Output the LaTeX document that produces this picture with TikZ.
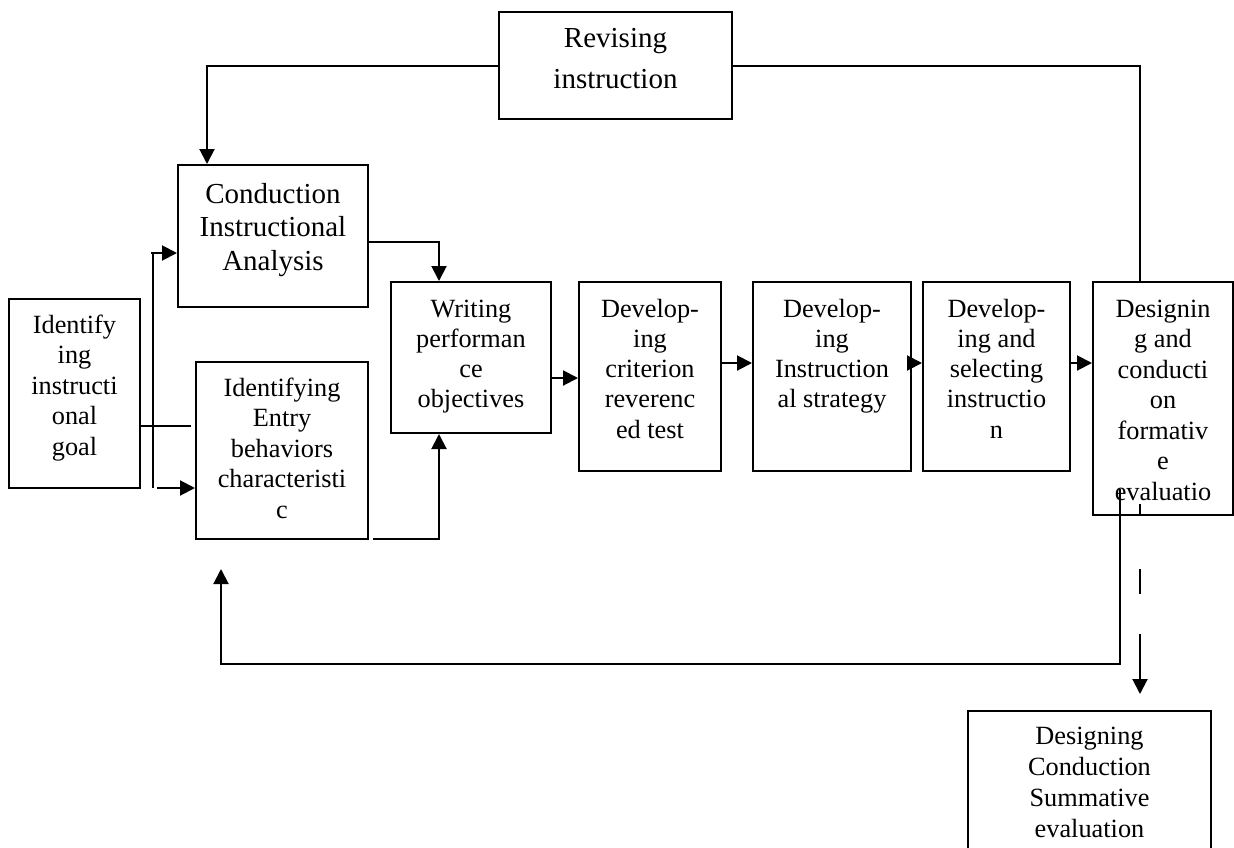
\documentclass[tikz,border=0pt]{standalone}
\usepackage{fontspec}
\setmainfont{Liberation Serif}
\usetikzlibrary{arrows.meta,calc}
\newcommand\btxt[4]{\parbox[t]{#1pt}{\centering\fontsize{#2}{#3}\selectfont #4}}
\tikzset{
  box/.style={draw, line width=2pt, inner sep=0pt},
  lbl/.style={inner sep=0pt, anchor=base},
  conn/.style={line width=2pt},
  tip/.style={-{Triangle[length=15pt,width=15pt]}},
  arr/.style={conn, tip},
}
\begin{document}
\begin{tikzpicture}[x=1pt,y=-1pt]
\useasboundingbox (0,0) rectangle (1234,847);
\clip (0,0) rectangle (1234,847);
% boxes
\node[box, minimum width=233pt, minimum height=107pt] (rev) at (615.5,65.5) {};
\node[box, minimum width=190pt, minimum height=142pt] (cia) at (273,236) {};
\node[box, minimum width=131pt, minimum height=189pt] (goal) at (74.5,393.5) {};
\node[box, minimum width=172pt, minimum height=177pt] (entry) at (282,450.5) {};
\node[box, minimum width=160pt, minimum height=151pt] (wpo) at (471,357.5) {};
\node[box, minimum width=142pt, minimum height=189pt] (crt) at (650,376.5) {};
\node[box, minimum width=158pt, minimum height=189pt] (strat) at (832,376.5) {};
\node[box, minimum width=147pt, minimum height=189pt] (sel) at (996.5,376.5) {};
\node[box, minimum width=140pt, minimum height=233pt] (form) at (1163,398.5) {};
\node[box, minimum width=243pt, minimum height=160pt] (summ) at (1089.5,791) {};
% texts
\node[lbl] (rev-t) at (615.5,47) {\btxt{220}{29}{41}{Revising\\instruction}};
\node[lbl] (cia-t) at (273,203) {\btxt{200}{29}{33.5}{Conduction\\Instructional\\Analysis}};
\node[lbl] (goal-t) at (74.5,333) {\btxt{140}{26.3}{30.5}{Identify\\ing\\instructi\\onal\\goal}};
\node[lbl] (entry-t) at (282,396) {\btxt{180}{26.3}{30.5}{Identifying\\Entry\\behaviors\\characteristi\\c}};
\node[lbl] (wpo-t) at (471,317) {\btxt{160}{26.3}{30}{Writing\\performan\\ce\\objectives}};
\node[lbl] (crt-t) at (650,317) {\btxt{150}{26.3}{30.3}{Develop-\\ing\\criterion\\reverenc\\ed test}};
\node[lbl] (strat-t) at (832,317) {\btxt{160}{26.3}{30}{Develop-\\ing\\Instruction\\al strategy}};
\node[lbl] (sel-t) at (996.5,317) {\btxt{150}{26.3}{30.3}{Develop-\\ing and\\selecting\\instructio\\n}};
\node[lbl] (form-t) at (1163,317) {\btxt{150}{26.3}{30.5}{Designin\\g and\\conducti\\on\\formativ\\e\\evaluatio}};
\node[lbl] (summ-t) at (1089.5,744) {\btxt{240}{26.3}{31}{Designing\\Conduction\\Summative\\evaluation}};
% connectors
\draw[arr] (rev.west) -| ([xshift=30pt]cia.north west);
\draw[conn] (rev.east) -| ([xshift=48pt]form.north west);
\draw[arr] ([yshift=-6pt]cia.east) -| ([xshift=49pt]wpo.north west);
\draw[arr] ([xshift=4pt,yshift=1pt]entry.south east) -| ([xshift=49pt]wpo.south west);
\draw[conn] ([yshift=-32.5pt]goal.east) -- ++(50,0);
\coordinate (st) at (153,253);
\coordinate (sb) at (153,488);
\draw[conn] (st) -- (sb);
\draw[arr] ([xshift=-2pt]st) -- ([yshift=-17pt]cia.west);
\draw[arr] ([xshift=4pt]sb) -- ([yshift=-37.5pt]entry.west);
\draw[arr] ([yshift=-20.5pt]wpo.east) -- ([yshift=-1.5pt]crt.west);
\draw[arr] ([yshift=13.5pt]crt.east) -- ([yshift=13.5pt]strat.west);
\draw[arr] ([yshift=13.5pt]strat.east) -- ([yshift=13.5pt]sel.west);
\draw[arr] ([yshift=13.5pt]sel.east) -- ([yshift=35.5pt]form.west);
% feedback loop
\coordinate (fbs) at ([xshift=28pt,yshift=27pt]form.south west);
\coordinate (fbc) at (221,664);
\coordinate (fbe) at (221,569);
\draw[arr] (fbs) |- (fbc) -- (fbe);
% dashed to summative
\coordinate (ds) at ([xshift=48pt,yshift=12pt]form.south west);
\coordinate (de) at ([yshift=16pt]summ.north);
\draw[conn, dash pattern=on 12pt off 53pt on 25pt off 40pt on 200pt, tip] (ds) -- (ds |- de);
\end{tikzpicture}
\end{document}
